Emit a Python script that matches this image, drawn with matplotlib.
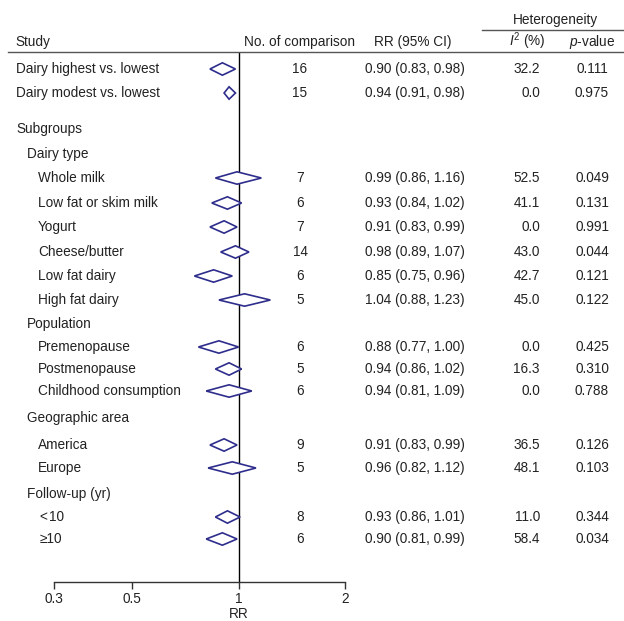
import matplotlib
matplotlib.use("Agg")
import matplotlib.pyplot as plt
from matplotlib.transforms import blended_transform_factory
from matplotlib.patches import Polygon
import numpy as np

# ---------------- data ----------------
labels = ["Dairy highest vs. lowest", "Dairy modest vs. lowest",
          "Whole milk", "Low fat or skim milk", "Yogurt", "Cheese/butter",
          "Low fat dairy", "High fat dairy",
          "Premenopause", "Postmenopause", "Childhood consumption",
          "America", "Europe",
          "<\u200a10", "\u226510"]
n_comp = [16, 15, 7, 6, 7, 14, 6, 5, 6, 5, 6, 9, 5, 8, 6]
rr = [0.90, 0.94, 0.99, 0.93, 0.91, 0.98, 0.85, 1.04, 0.88, 0.94, 0.94, 0.91, 0.96, 0.93, 0.90]
lo = [0.83, 0.91, 0.86, 0.84, 0.83, 0.89, 0.75, 0.88, 0.77, 0.86, 0.81, 0.83, 0.82, 0.86, 0.81]
hi = [0.98, 0.98, 1.16, 1.02, 0.99, 1.07, 0.96, 1.23, 1.00, 1.02, 1.09, 0.99, 1.12, 1.01, 0.99]
i2 = [32.2, 0.0, 52.5, 41.1, 0.0, 43.0, 42.7, 45.0, 0.0, 16.3, 0.0, 36.5, 48.1, 11.0, 58.4]
pval = ["0.111", "0.975", "0.049", "0.131", "0.991", "0.044", "0.121", "0.122",
        "0.425", "0.310", "0.788", "0.126", "0.103", "0.344", "0.034"]
headings = ["Subgroups", "Dairy type", "Population", "Geographic area", "Follow-up (yr)"]
xticks = [0.3, 0.5, 1, 2]
xticklabels = ["0.3", "0.5", "1", "2"]

# ---------------- layout (pixel rows) ----------------
W, H = 624, 621
row_y = [69, 93, 178, 203, 227, 252, 276, 300, 347, 369, 391, 445, 468, 517, 539]
row_x = [16, 16, 38, 38, 38, 38, 38, 38, 38, 38, 38, 38, 38, 40, 40]
head_y = [129, 154, 324, 418, 494]
head_x = [16, 27, 27, 27, 27]

plt.rcParams['font.family'] = ['Liberation Sans', 'DejaVu Sans']
plt.rcParams['mathtext.fontset'] = 'custom'
plt.rcParams['mathtext.rm'] = 'Liberation Sans'
plt.rcParams['mathtext.it'] = 'Liberation Sans:italic'
FS = 9.8
TC = '#222222'
DC = '#2e2d8c'

fig = plt.figure(figsize=(W / 100, H / 100), dpi=100)
ax_left, ax_right = 53.7, 345.0
ax_top, ax_bot = 52.0, 582.0
ax = fig.add_axes([ax_left / W, 1 - ax_bot / H, (ax_right - ax_left) / W, (ax_bot - ax_top) / H])
ax.set_xscale('log')
ax.set_xlim(0.3, 2)
ax.set_ylim(ax_bot, ax_top)
for s in ['top', 'right', 'left']:
    ax.spines[s].set_visible(False)
ax.spines['bottom'].set_color('#333333')
ax.spines['bottom'].set_linewidth(1.0)
ax.set_yticks([])
ax.set_xticks(xticks)
ax.set_xticklabels(xticklabels)
ax.xaxis.set_minor_locator(matplotlib.ticker.NullLocator())
ax.tick_params(axis='x', direction='out', length=5, width=1.0, color='#333333',
               labelsize=FS, labelcolor=TC, pad=2)
ax.set_xlabel('RR', fontsize=FS, color=TC, labelpad=1)
ax.xaxis.set_label_coords(np.log(1 / 0.3) / np.log(2 / 0.3), -0.047)
ax.axvline(1, color='black', lw=1.0, zorder=1)

half_h = 6.2
for y, r, l, h in zip(row_y, rr, lo, hi):
    pts = [(l, y), (r, y - half_h), (h, y), (r, y + half_h)]
    ax.add_patch(Polygon(pts, closed=True, facecolor='white', edgecolor=DC, lw=1.2, zorder=3))

tr = blended_transform_factory(fig.transFigure, ax.transData)
def fx(px):
    return px / W

for lab, x, y in zip(labels, row_x, row_y):
    ax.text(fx(x), y, lab, transform=tr, ha='left', va='center', fontsize=FS, color=TC)
for lab, x, y in zip(headings, head_x, head_y):
    ax.text(fx(x), y, lab, transform=tr, ha='left', va='center', fontsize=FS, color=TC)
for y, nn, r, l, h, ii, pp in zip(row_y, n_comp, rr, lo, hi, i2, pval):
    ax.text(fx(300), y, f"{nn}", transform=tr, ha='center', va='center', fontsize=FS, color=TC)
    ax.text(fx(415), y, f"{r:.2f} ({l:.2f}, {h:.2f})", transform=tr, ha='center', va='center',
            fontsize=FS, color=TC)
    ax.text(fx(540), y, f"{ii:.1f}", transform=tr, ha='right', va='center', fontsize=FS, color=TC)
    ax.text(fx(592), y, pp, transform=tr, ha='center', va='center', fontsize=FS, color=TC)

# header
def fy(py):
    return 1 - py / H
hb = 46
fig.text(fx(15), fy(hb), "Study", ha='left', va='baseline', fontsize=FS, color=TC)
fig.text(fx(300), fy(hb), "No. of comparison", ha='center', va='baseline', fontsize=FS, color=TC)
fig.text(fx(413), fy(hb), "RR (95% CI)", ha='center', va='baseline', fontsize=FS, color=TC)
fig.text(fx(527), fy(hb), r"$I^2$ (%)", ha='center', va='baseline', fontsize=FS, color=TC)
fig.text(fx(592), fy(hb), r"$p$-value", ha='center', va='baseline', fontsize=FS, color=TC)
fig.text(fx(555), fy(24), "Heterogeneity", ha='center', va='baseline', fontsize=FS, color=TC)
fig.add_artist(matplotlib.lines.Line2D([fx(8), fx(624)], [fy(52), fy(52)], color='#555555', lw=1.0))
fig.add_artist(matplotlib.lines.Line2D([fx(482), fx(624)], [fy(30), fy(30)], color='#555555', lw=1.0))

fig.savefig('out.png', dpi=100)
